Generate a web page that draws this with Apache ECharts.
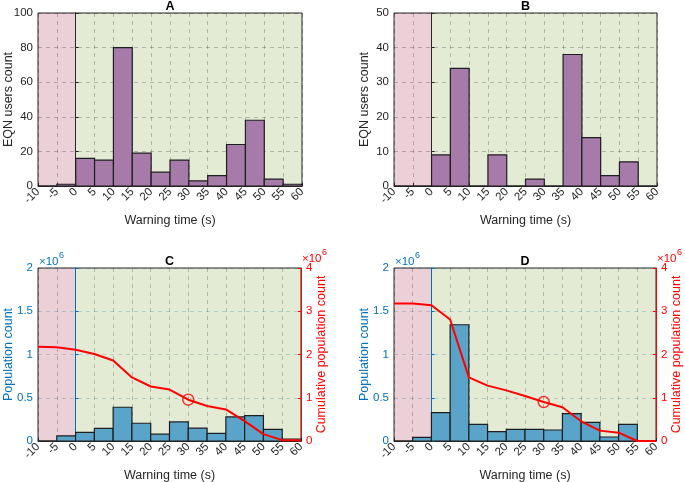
<!DOCTYPE html>
<html><head><meta charset="utf-8">
<script src="https://cdn.jsdelivr.net/npm/echarts@6.0.0/dist/echarts.min.js"></script>
<style>html,body{margin:0;padding:0;background:#fff}#c{width:685px;height:482px}</style>
</head><body><div id="c"></div>
<script>
// ---- data ----
const binStarts = [-10,-5,0,5,10,15,20,25,30,35,40,45,50,55];
const binWidth = 5;
const cumX = [-10,-5,0,5,10,15,20,25,30,35,40,45,50,55,60];
const shadeZones = [[-10,0],[0,60]];
const countsA = [0,1,16,15,80,19,8,15,3,6,24,38,4,1];
const countsB = [0,0,9,34,0,9,0,2,0,38,14,3,7,0];
const popC = [0,60000,100000,145000,390000,205000,80000,220000,148000,87000,278000,293000,135000,23000];
const cumC = [2180000,2170000,2110000,2010000,1860000,1470000,1260000,1190000,955000,810000,730000,460000,160000,20000,20000];
const popD = [0,42000,328000,1344000,193000,108000,135000,135000,127000,317000,216000,46000,193000,0];
const cumD = [3180000,3180000,3140000,2810000,1470000,1280000,1170000,1040000,900000,780000,455000,240000,193000,0,0];
const markX = 30;
const titles = ['A','B','C','D'];

// ---- styles ----
const FONT = 'Liberation Sans, Arial, Helvetica, sans-serif';
const DARK = '#262626';
const BLUE = '#0072BD';
const RED = '#FF0000';
const PINK = '#EBD0D7';
const GREEN = '#E3EBD5';
const PURPLE = '#A67BA9';
const BARBLUE = '#5AA4C9';
const grids = [
  {left:38, top:13, width:264, height:173},
  {left:394, top:13, width:263, height:173},
  {left:38, top:268, width:263, height:173},
  {left:394, top:268, width:262, height:173}
];

const chart = echarts.init(document.getElementById('c'), null, {renderer:'canvas'});

function xAxis(i){
  return {
    type:'value', gridIndex:i, min:-10, max:60, interval:5,
    name:'Warning time (s)', nameLocation:'middle', nameGap:28, nameMoveOverlap:false,
    nameTextStyle:{fontFamily:FONT, fontSize:12.5, color:DARK},
    axisLine:{show:true, onZero:false, lineStyle:{color:DARK, width:1}},
    axisTick:{show:true, inside:true, length:3, lineStyle:{color:DARK}},
    axisLabel:{rotate:45, fontFamily:FONT, fontSize:11.5, color:DARK, margin:4},
    splitLine:{show:true, lineStyle:{color:'rgba(0,0,0,0.22)', type:[4,4], width:1}},
    z:0
  };
}
function yAxis(i, opts){
  return Object.assign({
    type:'value', gridIndex:i, min:0,
    nameLocation:'middle', nameGap:23, nameRotate:90, nameMoveOverlap:false,
    nameTextStyle:{fontFamily:FONT, fontSize:12.5, color:DARK},
    axisLine:{show:true, lineStyle:{color:DARK, width:1}},
    axisTick:{show:true, inside:true, length:3},
    axisLabel:{fontFamily:FONT, fontSize:11.5, color:DARK, margin:5},
    splitLine:{show:true, lineStyle:{color:'rgba(0,0,0,0.22)', type:[4,4], width:1}},
    z:0
  }, opts);
}
const millions = v => String(v/1e6);

const yAxes = [
  yAxis(0,{max:100, interval:20, name:'EQN users count'}),
  yAxis(1,{max:50, interval:10, name:'EQN users count'}),
  yAxis(2,{max:2000000, interval:500000, name:'Population count',
    nameTextStyle:{fontFamily:FONT, fontSize:12.5, color:BLUE},
    axisLine:{show:true, lineStyle:{color:BLUE, width:1}},
    axisLabel:{fontFamily:FONT, fontSize:11.5, color:BLUE, margin:5, formatter:millions},
    splitLine:{show:true, lineStyle:{color:'rgba(0,80,140,0.2)', type:[4,4], width:1}}}),
  yAxis(2,{max:4000000, interval:1000000, position:'right', name:'Cumulative population count', nameGap:14,
    nameTextStyle:{fontFamily:FONT, fontSize:12.5, color:RED},
    axisLine:{show:true, lineStyle:{color:RED, width:1}},
    axisTick:{show:true, inside:true, length:3, lineStyle:{color:RED}},
    axisLabel:{fontFamily:FONT, fontSize:11.5, color:RED, margin:5, formatter:millions},
    splitLine:{show:false}}),
  yAxis(3,{max:2000000, interval:500000, name:'Population count',
    nameTextStyle:{fontFamily:FONT, fontSize:12.5, color:BLUE},
    axisLine:{show:true, lineStyle:{color:BLUE, width:1}},
    axisLabel:{fontFamily:FONT, fontSize:11.5, color:BLUE, margin:5, formatter:millions},
    splitLine:{show:true, lineStyle:{color:'rgba(0,80,140,0.2)', type:[4,4], width:1}}}),
  yAxis(3,{max:4000000, interval:1000000, position:'right', name:'Cumulative population count', nameGap:14,
    nameTextStyle:{fontFamily:FONT, fontSize:12.5, color:RED},
    axisLine:{show:true, lineStyle:{color:RED, width:1}},
    axisTick:{show:true, inside:true, length:3, lineStyle:{color:RED}},
    axisLabel:{fontFamily:FONT, fontSize:11.5, color:RED, margin:5, formatter:millions},
    splitLine:{show:false}})
];
const yMax = [100, 50, 2000000, 2000000];
const leftY = [0,1,2,4];

const series = [];
for (let g=0; g<4; g++){
  series.push({
    type:'custom', xAxisIndex:g, yAxisIndex:leftY[g], z:-1, silent:true,
    data: shadeZones.map(z => [z[0], z[1]]),
    renderItem:(params, api) => {
      const p0 = api.coord([api.value(0), yMax[g]]);
      const p1 = api.coord([api.value(1), 0]);
      return {type:'rect', shape:{x:p0[0], y:p0[1], width:p1[0]-p0[0], height:p1[1]-p0[1]},
        style:{fill: params.dataIndex===0 ? PINK : GREEN}};
    }
  });
}
const barSets = [countsA, countsB, popC, popD];
for (let g=0; g<4; g++){
  series.push({
    type:'custom', xAxisIndex:g, yAxisIndex:leftY[g], z:3,
    data: binStarts.map((x,i) => [x, x+binWidth, barSets[g][i]]),
    renderItem:(params, api) => {
      const p0 = api.coord([api.value(0), api.value(2)]);
      const p1 = api.coord([api.value(1), 0]);
      return {type:'rect', shape:{x:p0[0], y:p0[1], width:p1[0]-p0[0], height:p1[1]-p0[1]},
        style:{fill: g<2 ? PURPLE : BARBLUE, stroke:'#1e1e1e', lineWidth:1.2}};
    }
  });
}
const cumSets = [cumC, cumD];
const markIdx = cumX.indexOf(markX);
for (let k=0; k<2; k++){
  const g = k+2, ya = k===0 ? 3 : 5;
  series.push({
    type:'line', xAxisIndex:g, yAxisIndex:ya, z:5, symbol:'none',
    data: cumX.map((x,i) => [x, cumSets[k][i]]),
    lineStyle:{color:RED, width:2}
  });
  series.push({
    type:'scatter', xAxisIndex:g, yAxisIndex:ya, z:6, symbol:'circle', symbolSize:11,
    data: [[markX, cumSets[k][markIdx]]],
    itemStyle:{color:'rgba(0,0,0,0)', borderColor:RED, borderWidth:1.5}
  });
}

const graphics = [];
grids.forEach((gr, i) => {
  graphics.push({type:'text', x: gr.left + gr.width/2, y: gr.top - 6,
    style:{text:titles[i], font:'bold 12.5px ' + FONT, fill:'#000', textAlign:'center', textVerticalAlign:'middle'}});
  if (i >= 2){
    const L = gr.left, R = gr.left + gr.width, T = gr.top;
    graphics.push({type:'text', x:L+1, y:T-6, style:{text:'×10', font:'11.5px '+FONT, fill:BLUE, textVerticalAlign:'middle'}});
    graphics.push({type:'text', x:L+21, y:T-12, style:{text:'6', font:'9px '+FONT, fill:BLUE, textVerticalAlign:'middle'}});
    graphics.push({type:'text', x:R+1, y:T-9, style:{text:'×10', font:'11.5px '+FONT, fill:RED, textVerticalAlign:'middle'}});
    graphics.push({type:'text', x:R+21, y:T-15, style:{text:'6', font:'9px '+FONT, fill:RED, textVerticalAlign:'middle'}});
  }
});

chart.setOption({
  animation:false,
  backgroundColor:'#fff',
  textStyle:{fontFamily:FONT},
  grid: grids.map(g => Object.assign({show:true, borderColor:DARK, borderWidth:1, backgroundColor:'transparent', containLabel:false, outerBoundsMode:'none'}, g)),
  xAxis: [0,1,2,3].map(xAxis),
  yAxis: yAxes,
  series: series,
  graphic: graphics
});
</script>
</body></html>
